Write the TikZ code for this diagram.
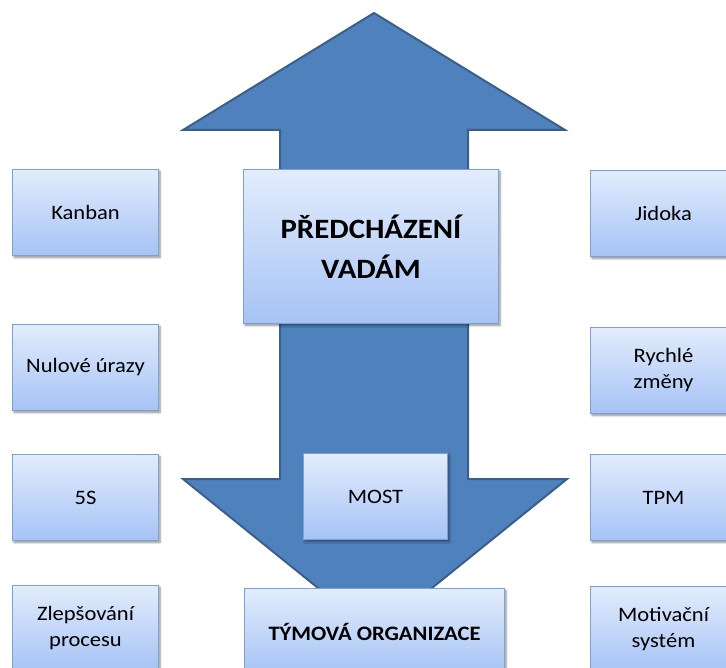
\documentclass[tikz,border=0pt]{standalone}
\usepackage{fontspec}
\setmainfont{Carlito}[FakeStretch=1.1]
\usetikzlibrary{shadows.blur}

\definecolor{boxtop}{HTML}{E2ECFC}
\definecolor{boxbot}{HTML}{A6C3F5}
\definecolor{boxline}{HTML}{7DA1D4}
\definecolor{arrowfill}{HTML}{4F81BD}
\definecolor{arrowline}{HTML}{3A5F8C}

\tikzset{
  card/.style={draw=boxline, line width=1pt, top color=boxtop, bottom color=boxbot,
    anchor=north west, inner sep=0pt, align=center, text=black,
    font=\fontsize{20.5}{26}\selectfont,
    blur shadow={shadow xshift=1.5pt, shadow yshift=-2pt, shadow blur radius=2pt,
      shadow blur steps=6, shadow opacity=45}},
  sidecard/.style={card, minimum width=146pt, minimum height=86pt},
  bigarrow/.style={fill=arrowfill, draw=arrowline, line width=2pt, line join=miter}
}

\begin{document}
\begin{tikzpicture}[x=1pt, y=-1pt]
  \useasboundingbox (0,0) rectangle (726,668);
  \clip (0,0) rectangle (726,668);

  % double-headed arrow behind the central cards
  \coordinate (tip1) at (374,13);
  \coordinate (tip2) at (375,634);
  \draw[bigarrow] (tip1) -- (565,130) -- (468,130) -- (468,479) -- (567,479)
    -- (tip2) -- (183,479) -- (280,479) -- (280,130) -- (183,130) -- cycle;

  % central cards
  \node[card, minimum width=255pt, minimum height=154pt,
        font=\fontsize{28}{40}\selectfont\bfseries] (goal) at (243,169)
        {PŘEDCHÁZENÍ\\VADÁM};
  \node[card, minimum width=144pt, minimum height=86pt] (most) at (303,453) {MOST};
  \node[card, minimum width=260pt, minimum height=86pt,
        font=\fontsize{20.5}{26}\selectfont\bfseries] (team) at (244,588)
        {TÝMOVÁ ORGANIZACE};

  % left column
  \node[sidecard] (kanban) at (12,169) {Kanban};
  \node[sidecard] (uraz)   at (12,324) {Nulové úrazy};
  \node[sidecard] (fives)  at (12,454) {5S};
  \node[sidecard] (zlep)   at (12,585) {Zlepšování\\procesu};

  % right column
  \node[sidecard] (jidoka) at (590,170) {Jidoka};
  \node[sidecard] (smed)   at (590,327) {Rychlé\\změny};
  \node[sidecard] (tpm)    at (590,454) {TPM};
  \node[sidecard] (motiv)  at (590,586) {Motivační\\systém};
\end{tikzpicture}
\end{document}
